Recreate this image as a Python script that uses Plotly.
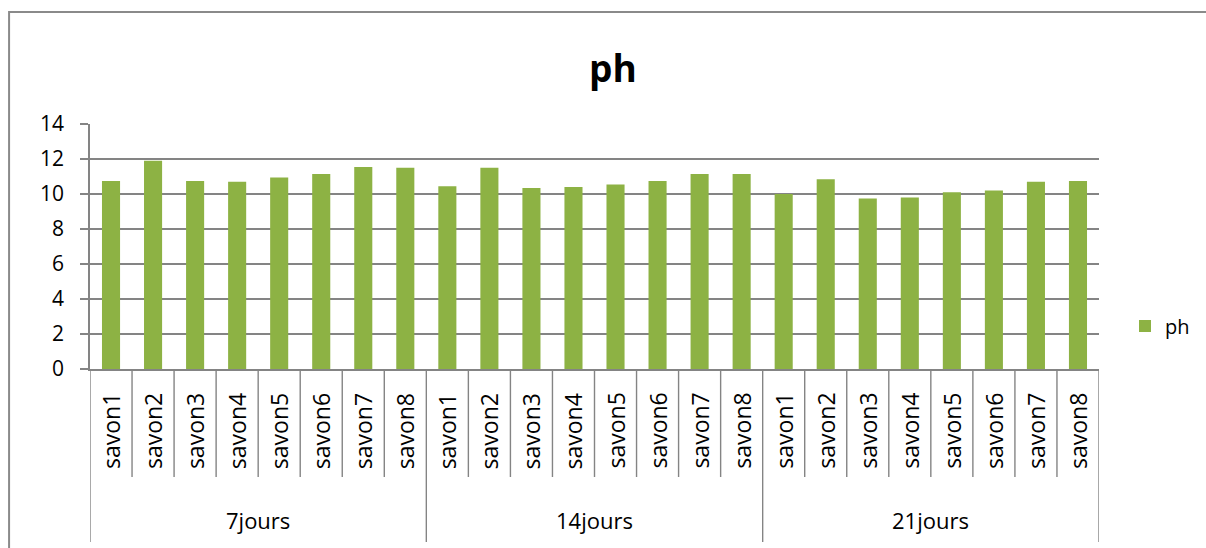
import plotly.graph_objects as go

# pH of eight soaps measured after 7, 14 and 21 days
periods = ["7jours", "14jours", "21jours"]
savons = ["savon1", "savon2", "savon3", "savon4", "savon5", "savon6", "savon7", "savon8"]
ph_7jours = [10.75, 11.9, 10.75, 10.7, 10.95, 11.15, 11.55, 11.5]
ph_14jours = [10.45, 11.5, 10.35, 10.4, 10.55, 10.75, 11.15, 11.15]
ph_21jours = [10.0, 10.85, 9.75, 9.8, 10.1, 10.2, 10.7, 10.75]
y_ticks = [0, 2, 4, 6, 8, 10, 12, 14]

FONT = "Open Sans, Lato, sans-serif"
GRID = "#848484"
BAR = "#8DB244"

series = [ph_7jours, ph_14jours, ph_21jours]
keys, values = [], []
for period, vals in zip(periods, series):
    for savon, v in zip(savons, vals):
        keys.append(f"{period}/{savon}")
        values.append(v)

fig = go.Figure()
fig.add_trace(go.Bar(
    x=keys, y=values, name="ph", width=0.43,
    marker=dict(color=BAR, line=dict(width=0)),
    hovertemplate="%{x}: %{y}<extra></extra>",
))

n = len(keys)
plot_h = 245.0  # plot area height in px, used to convert px offsets to paper units

def py(px_below_axis):
    return -px_below_axis / plot_h

annotations = []
# savon labels, rotated
for k, key in enumerate(keys):
    annotations.append(dict(
        x=key, xref="x", y=py(62), yref="paper", text=key.split("/")[1],
        textangle=-90, showarrow=False, xanchor="center", yanchor="middle",
        font=dict(family=FONT, size=23, color="#000000"),
    ))
# period labels centred under each group
per = len(savons)
for g, period in enumerate(periods):
    annotations.append(dict(
        x=g * per + (per - 1) / 2, xref="x", y=py(151), yref="paper", text=period,
        showarrow=False, xanchor="center", yanchor="middle",
        font=dict(family=FONT, size=22, color="#000000"),
    ))
# chart title
annotations.append(dict(
    x=(614 - 90) / 1010, xref="paper", y=(369 - 68) / plot_h, yref="paper",
    text="<b>ph</b>", showarrow=False, xanchor="center", yanchor="middle",
    font=dict(family=FONT, size=37, color="#000000"),
))

shapes = []
# separators between categories in the label area
for b in range(n + 1):
    edge = b - 0.5
    long_line = (b % per == 0)
    shapes.append(dict(
        type="line", xref="x", yref="paper", x0=edge, x1=edge,
        y0=0, y1=py(173 if long_line else 108),
        line=dict(color=GRID, width=1.4),
    ))
# outer chart frame
shapes.append(dict(
    type="rect", xref="paper", yref="paper",
    x0=(9 - 90) / 1010, x1=(1215 - 90) / 1010,
    y0=(369 - 560) / plot_h, y1=(369 - 12) / plot_h,
    line=dict(color="#8a8a8a", width=2), fillcolor="rgba(0,0,0,0)", layer="below",
))

fig.update_layout(
    width=1206, height=548,
    margin=dict(l=90, r=106, t=124, b=179),
    paper_bgcolor="white", plot_bgcolor="white",
    font=dict(family=FONT, color="#000000"),
    bargap=0.57,
    showlegend=True,
    legend=dict(
        x=(1125 - 90) / 1010, xanchor="left", y=(369 - 326) / plot_h, yanchor="middle",
        font=dict(family=FONT, size=20, color="#000000"),
        bgcolor="rgba(0,0,0,0)",
    ),
    xaxis=dict(
        type="category", showticklabels=False, ticks="", showgrid=False,
        showline=True, linecolor=GRID, linewidth=1.6, range=[-0.5, n - 0.5],
        fixedrange=True,
    ),
    yaxis=dict(
        range=[0, 14], tickvals=y_ticks, ticks="outside", ticklen=8,
        tickcolor=GRID, tickwidth=1.6, showgrid=True, gridcolor=GRID, gridwidth=1.6,
        showline=True, linecolor=GRID, linewidth=1.6, zeroline=False,
        tickfont=dict(family=FONT, size=21, color="#000000"),
        ticklabelstandoff=12, fixedrange=True,
    ),
    annotations=annotations,
    shapes=shapes,
)

fig.write_html("out.html")
